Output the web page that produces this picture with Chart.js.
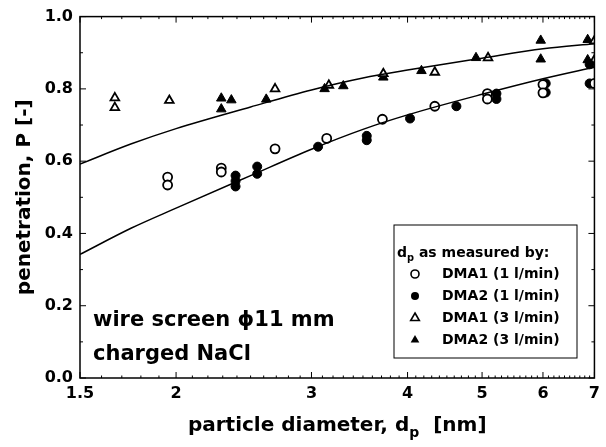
<!DOCTYPE html>
<html>
<head>
<meta charset="utf-8">
<script src="https://cdn.jsdelivr.net/npm/chart.js@4/dist/chart.umd.min.js"></script>
<style>
  html, body { margin: 0; padding: 0; background: #fff; }
  #wrap { width: 606px; height: 447px; }
</style>
</head>
<body>
<div id="wrap"><canvas id="chart" width="606" height="447"></canvas></div>
<script>
// axis ticks
const xTicks = [1.5, 2, 3, 4, 5, 6, 7];
const yTicks = [0, 0.2, 0.4, 0.6, 0.8, 1.0];

// DMA1 (1 l/min) - open circles
const dma1Low_x = [1.95, 1.95, 2.29, 2.29, 2.69, 3.14, 3.71, 4.34, 5.08, 5.08, 6.0, 6.0, 7.0];
const dma1Low_y = [0.556, 0.534, 0.581, 0.570, 0.634, 0.663, 0.716, 0.752, 0.787, 0.772, 0.812, 0.789, 0.815];

// DMA2 (1 l/min) - filled circles
const dma2Low_x = [2.39, 2.39, 2.39, 2.55, 2.55, 3.06, 3.54, 3.54, 4.03, 4.63, 5.22, 5.22, 6.05, 6.05, 6.9, 6.9];
const dma2Low_y = [0.560, 0.545, 0.530, 0.585, 0.565, 0.640, 0.670, 0.658, 0.718, 0.752, 0.787, 0.772, 0.815, 0.790, 0.815, 0.868];

// DMA1 (3 l/min) - open triangles
const dma1High_x = [1.665, 1.665, 1.96, 2.69, 3.16, 3.72, 4.34, 5.09, 7.0, 7.0];
const dma1High_y = [0.775, 0.748, 0.768, 0.800, 0.810, 0.842, 0.846, 0.886, 0.933, 0.880];

// DMA2 (3 l/min) - filled triangles
const dma2High_x = [2.29, 2.29, 2.36, 2.62, 3.12, 3.30, 3.72, 4.17, 4.91, 5.96, 5.96, 6.86, 6.86];
const dma2High_y = [0.774, 0.744, 0.769, 0.771, 0.800, 0.808, 0.832, 0.850, 0.886, 0.934, 0.882, 0.936, 0.880];

// fitted curves
const curve_x = [1.5, 1.75, 2, 2.5, 3, 3.5, 4, 5, 6, 7];
const curveHigh_y = [0.592, 0.648, 0.690, 0.750, 0.797, 0.830, 0.852, 0.885, 0.911, 0.925];
const curveLow_y = [0.342, 0.415, 0.470, 0.560, 0.633, 0.688, 0.728, 0.785, 0.828, 0.860];

const legendLabels = ['DMA1 (1 l/min)', 'DMA2 (1 l/min)', 'DMA1 (3 l/min)', 'DMA2 (3 l/min)'];

const FONT = '"DejaVu Sans", Verdana, sans-serif';
const pts = (xs, ys) => xs.map((x, i) => ({ x, y: ys[i] }));

Chart.defaults.font.family = FONT;
Chart.defaults.color = '#000';

function drawMarker(ctx, kind, x, y) {
  ctx.save();
  ctx.strokeStyle = '#000';
  ctx.fillStyle = '#000';
  ctx.lineWidth = 1.6;
  ctx.beginPath();
  if (kind === 'oc' || kind === 'fc') {
    ctx.arc(x, y, 4, 0, Math.PI * 2);
  } else {
    const r = 5;
    for (let k = 0; k < 3; k++) {
      const a = k * 2 * Math.PI / 3;
      const px = x + Math.sin(a) * r, py = y - Math.cos(a) * r;
      k ? ctx.lineTo(px, py) : ctx.moveTo(px, py);
    }
    ctx.closePath();
  }
  if (kind === 'fc' || kind === 'ft') ctx.fill(); else ctx.stroke();
  ctx.restore();
}

// text with a subscript part
function richText(ctx, parts, x, y, size, align) {
  const font = (s) => 'bold ' + s + 'px ' + FONT;
  let w = 0;
  parts.forEach(p => { ctx.font = font(p.sub ? size * 0.7 : size); w += ctx.measureText(p.t).width; });
  let cx = align === 'center' ? x - w / 2 : x;
  ctx.textAlign = 'left';
  ctx.textBaseline = 'alphabetic';
  parts.forEach(p => {
    ctx.font = font(p.sub ? size * 0.7 : size);
    ctx.fillText(p.t, cx, p.sub ? y + size * 0.3 : y);
    cx += ctx.measureText(p.t).width;
  });
}

const decor = {
  id: 'decor',
  afterDraw(chart) {
    const { ctx, chartArea: a, scales: { x, y } } = chart;
    ctx.save();
    ctx.strokeStyle = '#000';
    ctx.lineWidth = 1.5;
    ctx.strokeRect(a.left, a.top, a.right - a.left, a.bottom - a.top);

    // inward ticks on all sides
    ctx.lineWidth = 1;
    ctx.beginPath();
    for (let i = 0; i <= 10; i++) {
      const py = y.getPixelForValue(i / 10);
      const len = i % 2 ? 3 : 6;
      ctx.moveTo(a.left, py); ctx.lineTo(a.left + len, py);
      ctx.moveTo(a.right, py); ctx.lineTo(a.right - len, py);
    }
    for (let i = 15; i <= 70; i++) {
      const px = x.getPixelForValue(i / 10);
      const len = (i % 10 === 0 || i === 15) ? 6 : 2.5;
      ctx.moveTo(px, a.bottom); ctx.lineTo(px, a.bottom - len);
      ctx.moveTo(px, a.top); ctx.lineTo(px, a.top + len);
    }
    ctx.stroke();

    ctx.fillStyle = '#000';
    // axis titles
    richText(ctx, [{ t: 'particle diameter, d' }, { t: 'p', sub: true }, { t: '  [nm]' }],
      (a.left + a.right) / 2, 431, 20, 'center');
    ctx.save();
    ctx.translate(30, (a.top + a.bottom) / 2);
    ctx.rotate(-Math.PI / 2);
    richText(ctx, [{ t: 'penetration, P [-]' }], 0, 0, 20, 'center');
    ctx.restore();

    // annotation
    ctx.font = 'bold 21px ' + FONT;
    ctx.textAlign = 'left';
    ctx.textBaseline = 'middle';
    ctx.fillText('wire screen \u03D511 mm', 93, 321);
    ctx.fillText('charged NaCl', 93, 355);

    // legend
    const lx = 394, ly = 225, lw = 183, lh = 133;
    ctx.lineWidth = 1;
    ctx.strokeRect(lx, ly, lw, lh);
    richText(ctx, [{ t: 'd' }, { t: 'p', sub: true }, { t: ' as measured by:' }], lx + 3, ly + 32, 14, 'left');
    const kinds = ['oc', 'fc', 'ot', 'ft'];
    legendLabels.forEach((lab, i) => {
      const ry = ly + 49 + i * 22;
      drawMarker(ctx, kinds[i], lx + 21, ry);
      ctx.font = 'bold 14px ' + FONT;
      ctx.textBaseline = 'middle';
      ctx.fillText(lab, lx + 48, ry);
    });
    ctx.restore();
  }
};

const lineStyle = { showLine: true, borderColor: '#000', borderWidth: 1.5, pointRadius: 0, cubicInterpolationMode: 'monotone', fill: false };

new Chart(document.getElementById('chart'), {
  type: 'scatter',
  data: {
    datasets: [
      { label: 'fit 3 l/min', data: pts(curve_x, curveHigh_y), ...lineStyle },
      { label: 'fit 1 l/min', data: pts(curve_x, curveLow_y), ...lineStyle },
      { label: legendLabels[0], data: pts(dma1Low_x, dma1Low_y), pointStyle: 'circle', pointRadius: 4.5, backgroundColor: '#fff', borderColor: '#000', borderWidth: 1.8 },
      { label: legendLabels[1], data: pts(dma2Low_x, dma2Low_y), pointStyle: 'circle', pointRadius: 4.5, backgroundColor: '#000', borderColor: '#000', borderWidth: 1 },
      { label: legendLabels[2], data: pts(dma1High_x, dma1High_y), pointStyle: 'triangle', pointRadius: 5, backgroundColor: '#fff', borderColor: '#000', borderWidth: 1.8 },
      { label: legendLabels[3], data: pts(dma2High_x, dma2High_y), pointStyle: 'triangle', pointRadius: 5.5, backgroundColor: '#000', borderColor: '#000', borderWidth: 1 },
    ],
  },
  options: {
    responsive: false,
    animation: false,
    devicePixelRatio: 1,
    layout: { padding: { top: 15, right: 7, left: 0, bottom: 0 } },
    plugins: { legend: { display: false }, tooltip: { enabled: false } },
    scales: {
      x: {
        type: 'logarithmic',
        min: 1.5,
        max: 7,
        grid: { display: false, drawTicks: false },
        border: { display: false },
        afterBuildTicks: (s) => { s.ticks = xTicks.map(v => ({ value: v })); },
        afterFit: (s) => { s.height = 69; },
        ticks: {
          autoSkip: false,
          maxRotation: 0,
          padding: 6,
          font: { size: 16, weight: 'bold' },
          callback: (v) => String(v),
        },
      },
      y: {
        min: 0,
        max: 1,
        grid: { display: false, drawTicks: false },
        border: { display: false },
        afterBuildTicks: (s) => { s.ticks = yTicks.map(v => ({ value: v })); },
        afterFit: (s) => { s.width = 80; },
        ticks: {
          padding: 7,
          font: { size: 16, weight: 'bold' },
          callback: (v) => v.toFixed(1),
        },
      },
    },
  },
  plugins: [decor],
});
</script>
</body>
</html>
